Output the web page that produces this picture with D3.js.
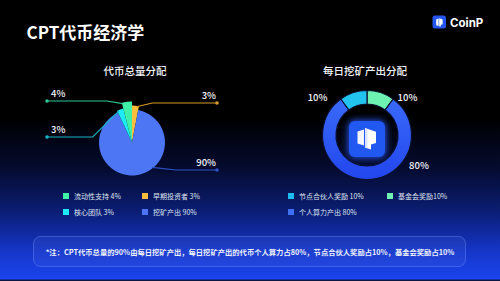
<!DOCTYPE html>
<html><head><meta charset="utf-8">
<script src="https://cdn.jsdelivr.net/npm/d3@7"></script>
<style>html,body{margin:0;padding:0;background:#000;}svg{display:block;font-family:"Noto Sans CJK SC","Noto Sans",sans-serif;}</style>
</head><body>
<script>
// ---- data ----
const pieNames  = ["早期投资者", "挖矿产出", "核心团队", "流动性支持"];
const pieValues = [3, 90, 3, 4];
const pieColors = ["#fbbd3c", "#4d76f5", "#1ee9f6", "#3ff0a9"];
const pieLineColors = ["#d99b24", "#2c52c4", "#17b3c6", "#2cc796"];
const pieLegend = ["流动性支持 4%", "早期投资者 3%", "核心团队 3%", "挖矿产出 90%"];
const pieLegendColors = ["#3ff0a9", "#fbbd3c", "#1ee9f6", "#4b74f4"];

const donutNames  = ["基金会奖励", "个人算力产出", "节点合伙人奖励"];
const donutValues = [10, 80, 10];
const donutColors = ["#6ef2b2", "url(#gBlue)", "#22c3ef"];
const donutLegend = ["节点合伙人奖励 10%", "基金会奖励10%", "个人算力产出 80%"];
const donutLegendColors = ["#1dbcf0", "#6ef2b2", "#3f6ff5"];

const title = "CPT代币经济学";
const pieTitle = "代币总量分配";
const donutTitle = "每日挖矿产出分配";
const note = "*注：CPT代币总量的90%由每日挖矿产出，每日挖矿产出的代币个人算力占80%，节点合伙人奖励占10%，基金会奖励占10%";

// ---- layout ----
const W = 500, H = 281;
const svg = d3.select("body").append("svg").attr("width", W).attr("height", H);
const defs = svg.append("defs");
const bg = defs.append("linearGradient").attr("id", "bg").attr("x1", 0).attr("y1", 0).attr("x2", 0).attr("y2", 1);
[[0, "#000000"], [0.42, "#000000"], [0.6, "#050b30"], [0.75, "#0a1d72"], [0.89, "#1535c6"], [1, "#1c45f2"]]
  .forEach(([o, c]) => bg.append("stop").attr("offset", o).attr("stop-color", c));
const gb = defs.append("linearGradient").attr("id", "gBlue").attr("x1", 0).attr("y1", 0).attr("x2", 0).attr("y2", 1);
gb.append("stop").attr("offset", 0).attr("stop-color", "#3a6af9");
gb.append("stop").attr("offset", 1).attr("stop-color", "#2246ee");
const glow = defs.append("filter").attr("id", "glow").attr("x", "-60%").attr("y", "-60%").attr("width", "220%").attr("height", "220%");
glow.append("feGaussianBlur").attr("stdDeviation", 3.5);

svg.append("rect").attr("width", W).attr("height", H).attr("fill", "url(#bg)");
svg.append("rect").attr("y", 279.5).attr("width", W).attr("height", 1.5).attr("fill", "#0b1644");

// header
svg.append("text").attr("x", 26.5).attr("y", 39).attr("fill", "#fff").attr("font-size", 17).attr("font-weight", 700).text(title);
svg.append("rect").attr("x", 432.5).attr("y", 15.5).attr("width", 13.5).attr("height", 13).attr("rx", 2.5).attr("fill", "#2457f2");
svg.append("path").attr("d", "M436.2,19.6 L438.6,18.6 L438.6,26 L436.2,25.2Z M439.2,18.2 L442.6,19.6 L442.6,24.2 L440.8,24.8 L440.8,26.6 L439.2,26.2Z").attr("fill", "#fff");
svg.append("text").attr("x", 450).attr("y", 27).attr("fill", "#fff").attr("font-size", 11.5).attr("font-weight", 700).attr("font-family", "Inter, sans-serif").text("CoinP");

// ---- left pie ----
const pc = { x: 132, y: 142.5 };
const sliceR = { "早期投资者": 37, "挖矿产出": 33, "核心团队": 35, "流动性支持": 41 };
const pieG = svg.append("g").attr("transform", `translate(${pc.x},${pc.y})`);
const pie = d3.pie().sort(null).value(d => d.v).startAngle(0).endAngle(2 * Math.PI);
const pieData = pie(pieNames.map((n, i) => ({ n, v: pieValues[i], c: pieColors[i], lc: pieLineColors[i] })));
pieG.selectAll("path.s").data(pieData).join("path")
  .attr("d", d => d3.arc().innerRadius(0).outerRadius(sliceR[d.data.n])(d))
  .attr("fill", d => d.data.c);

// label layout: anchor angle on slice (deg), line y offset from centre, side
const pieLabelLayout = {
  "流动性支持": { a: 346.5, ly: -41.5, side: -1, ex: 20 },
  "核心团队":   { a: 337,   ly: -5.5,  side: -1, ex: 40 },
  "早期投资者": { a: 7,     ly: -39.5, side: 1,  ex: 20 },
  "挖矿产出":   { a: 141,   ly: 27.5,  side: 1,  ex: 36 }
};
pieData.forEach(d => {
  const L = pieLabelLayout[d.data.n];
  const r = sliceR[d.data.n] - 1;
  const a = L.a * Math.PI / 180;
  const sx = r * Math.sin(a), sy = -r * Math.cos(a);
  const ex = sx + L.side * L.ex * 0.5 + L.side * 6;
  const endX = L.side * 85;
  pieG.append("polyline")
    .attr("points", [[sx, sy], [ex, L.ly], [endX, L.ly]].map(p => p.join(",")).join(" "))
    .attr("fill", "none").attr("stroke", d.data.lc).attr("stroke-width", 1.1);
  pieG.append("circle").attr("cx", endX).attr("cy", L.ly).attr("r", 1.8).attr("fill", d.data.lc);
  pieG.append("text").attr("x", L.side < 0 ? endX + 4 : endX - 1).attr("y", L.ly - 4)
    .attr("text-anchor", L.side < 0 ? "start" : "end")
    .attr("fill", "#f2f4fa").attr("font-size", 9.5).attr("font-weight", 500).text(d.data.v + "%");
});
svg.append("text").attr("x", 135).attr("y", 74.5).attr("text-anchor", "middle").attr("fill", "#f2f4fa")
  .attr("font-size", 10.5).attr("font-weight", 500).text(pieTitle);

// ---- right donut ----
const dc = { x: 367, y: 135 };
const dG = svg.append("g").attr("transform", `translate(${dc.x},${dc.y})`);
const dData = pie(donutNames.map((n, i) => ({ n, v: donutValues[i], c: donutColors[i] })));
const dArc = d3.arc().innerRadius(31).outerRadius(44.5);
dG.selectAll("path.d").data(dData).join("path")
  .attr("d", dArc).attr("fill", d => d.data.c).attr("stroke", "#0b1030").attr("stroke-width", 1.2);

// centre logo
dG.append("rect").attr("x", -19).attr("y", -15).attr("width", 38).attr("height", 38).attr("rx", 7)
  .attr("fill", "#2a5cff").attr("opacity", 0.9).attr("filter", "url(#glow)");
dG.append("rect").attr("x", -18).attr("y", -14).attr("width", 36).attr("height", 36).attr("rx", 6).attr("fill", "#2158f2");
dG.append("path").attr("d", "M-9.5,-3.6 L-3,-5.6 L-3,10.5 L-9.5,8.6Z").attr("fill", "#f3f6ff");
dG.append("path").attr("d", "M-2,-7 L9,-3.2 L9,8 L4,9.6 L4,14.5 L-2,12.6Z").attr("fill", "#ffffff");
dG.append("path").attr("d", "M-2,-7 L-2,12.6 L0.5,13.4 L0.5,-6.1Z").attr("fill", "#d9e2ff");

const donutLabelLayout = {
  "节点合伙人奖励": { x: -49.5, y: -34 },
  "基金会奖励":     { x: 40.5,  y: -34 },
  "个人算力产出":   { x: 52,    y: 34 }
};
dData.forEach(d => {
  const L = donutLabelLayout[d.data.n];
  dG.append("text").attr("x", L.x).attr("y", L.y).attr("text-anchor", "middle")
    .attr("fill", "#f2f4fa").attr("font-size", 9.5).attr("font-weight", 500).text(d.data.v + "%");
});
svg.append("text").attr("x", 365).attr("y", 74.5).attr("text-anchor", "middle").attr("fill", "#f2f4fa")
  .attr("font-size", 10.5).attr("font-weight", 500).text(donutTitle);

// ---- legends ----
function legend(items, colors, x0, colW) {
  items.forEach((t, i) => {
    const col = i % 2, row = Math.floor(i / 2);
    const x = x0 + col * colW, y = 196 + row * 16;
    svg.append("rect").attr("x", x).attr("y", y - 3).attr("width", 6).attr("height", 6).attr("fill", colors[i]);
    svg.append("text").attr("x", x + 11).attr("y", y + 2.5).attr("fill", "#dfe4f2").attr("font-size", 7).text(t);
  });
}
legend(pieLegend, pieLegendColors, 63, 79);
legend(donutLegend, donutLegendColors, 288, 99);

// ---- note ----
svg.append("rect").attr("x", 33.5).attr("y", 236.5).attr("width", 432).attr("height", 30).attr("rx", 7)
  .attr("fill", "rgba(120,150,255,0.10)").attr("stroke", "rgba(130,160,255,0.45)").attr("stroke-width", 0.8);
svg.append("text").attr("x", 250).attr("y", 254.5).attr("text-anchor", "middle").attr("fill", "#eef2ff")
  .attr("font-size", 7.3).attr("font-weight", 700).text(note);
</script>
</body></html>
